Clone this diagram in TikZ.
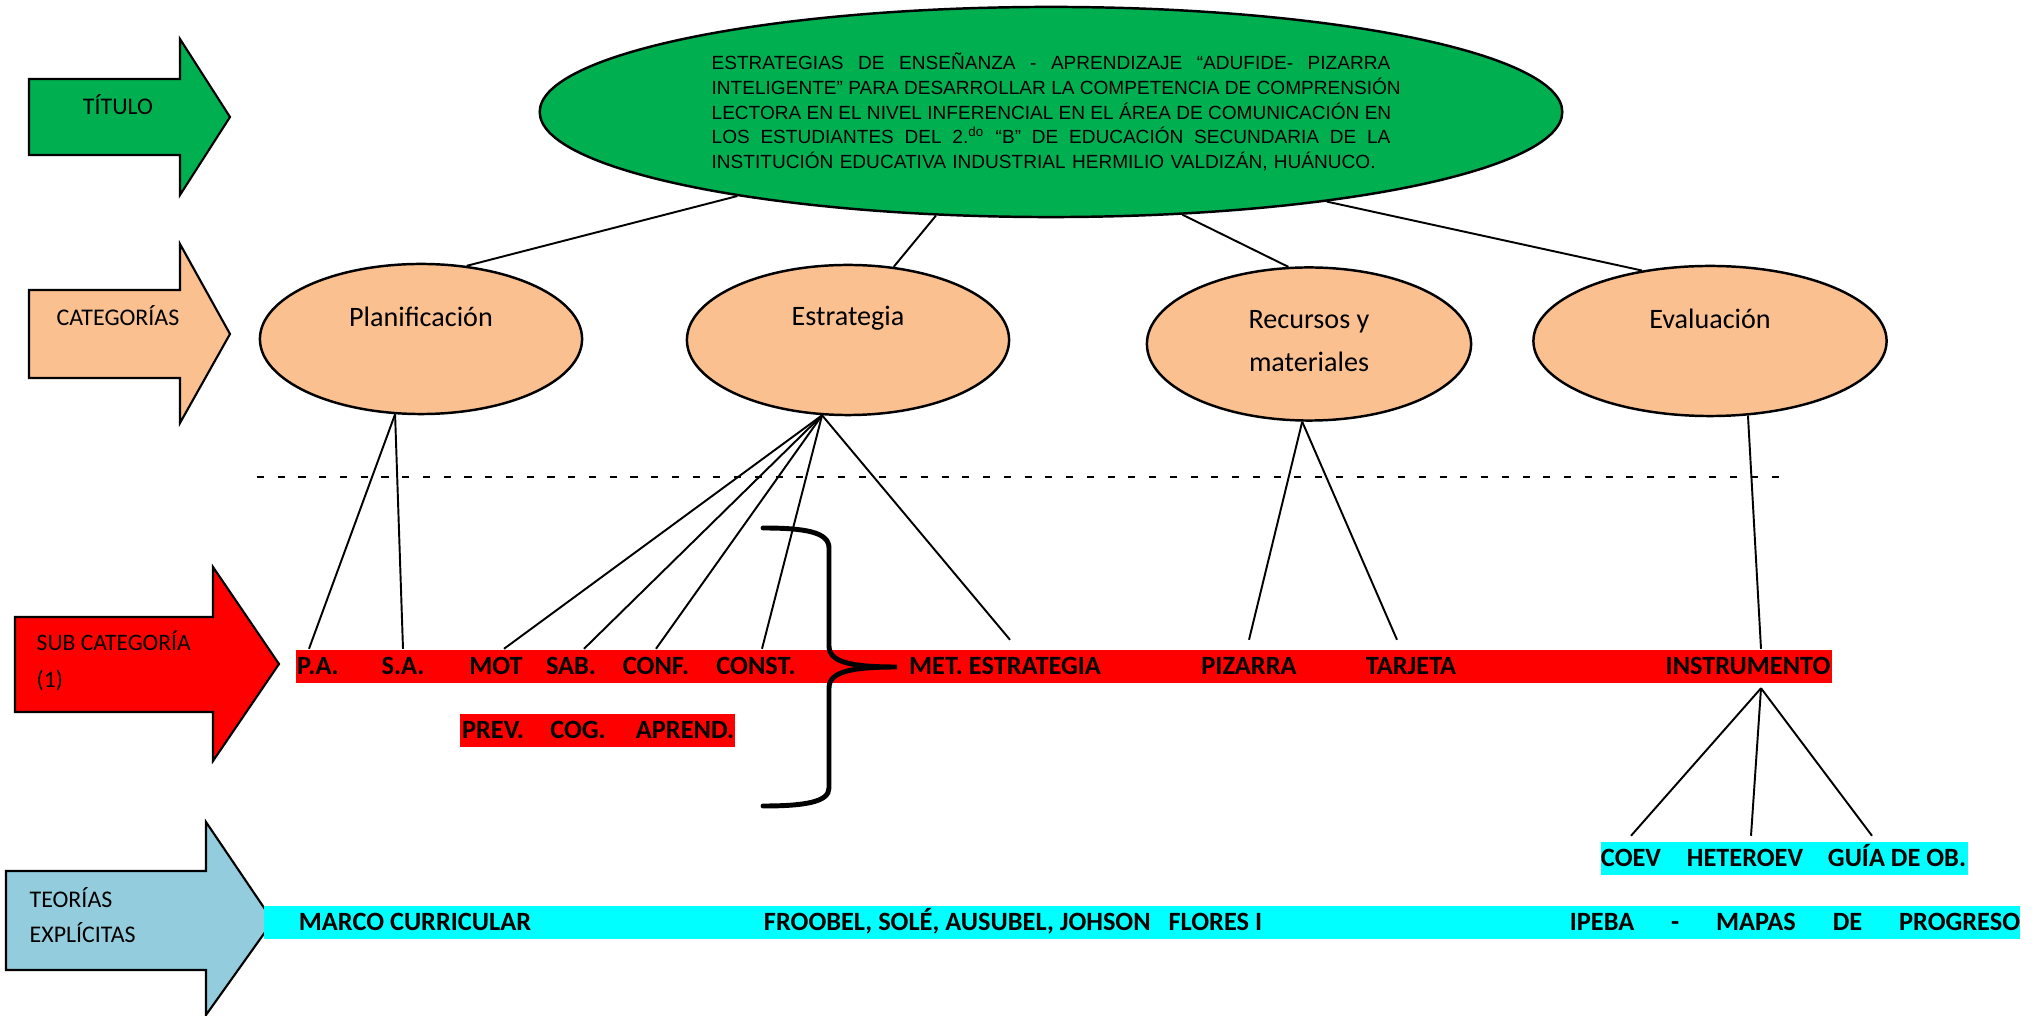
\documentclass[tikz,border=0pt]{standalone}
\usepackage{fontspec}
\setmainfont{Carlito}
\newfontfamily\titlefont{Liberation Sans}
\usetikzlibrary{shapes.geometric}

\definecolor{titlegreen}{HTML}{00B050}
\definecolor{catpeach}{HTML}{FAC090}
\definecolor{teoblue}{HTML}{93CDDD}
\definecolor{barred}{HTML}{FF0000}
\definecolor{barcyan}{HTML}{00FFFF}

\newcommand{\tline}[1]{\leavevmode\hbox to 193pt{\spaceskip=0.278em plus 1fil\relax #1}}

\begin{document}
\begin{tikzpicture}[x=0.01cm, y=-0.01cm,
    cat/.style={ellipse, draw, line width=0.7pt, fill=catpeach, minimum width=3.22cm, minimum height=1.5cm, inner sep=0pt},
    cattxt/.style={font=\fontsize{8}{12}\selectfont, align=center, inner sep=0pt},
    lab/.style={font=\fontsize{7.5}{9}\selectfont\bfseries, inner sep=0pt, minimum height=0.33cm, text height=4.83pt, text depth=0pt},
    side/.style={font=\fontsize{6.8}{10}\selectfont, inner sep=0pt, align=left},
    sidearrow/.style={draw, line width=0.6pt, line join=miter},
    link/.style={line width=0.55pt}]
    \useasboundingbox (0,0) rectangle (2042,1016);

    % Side arrows
    \path[sidearrow, fill=titlegreen] (29,79) -- (180,79) -- (180,39) -- (230,117) -- (180,195) -- (180,155) -- (29,155) -- cycle;
    \path[sidearrow, fill=catpeach] (29,290) -- (180,290) -- (180,244) -- (230,334) -- (180,423) -- (180,378) -- (29,378) -- cycle;
    \path[sidearrow, fill=barred] (15,617) -- (213,617) -- (213,567) -- (279,664) -- (213,761) -- (213,712) -- (15,712) -- cycle;
    \path[sidearrow, fill=teoblue] (6,871) -- (206,871) -- (206,822) -- (273,921) -- (206,1015) -- (206,970) -- (6,970) -- cycle;

    \node[side] (titlelab) at (118,105) {TÍTULO};
    \node[side] (catlab) at (118,316) {CATEGORÍAS};
    \node[side, anchor=west, font=\fontsize{6.7}{10.5}\selectfont] (sublab) at (36,661) {SUB CATEGORÍA\\(1)};
    \node[side, anchor=west] (teolab) at (29,915) {TEORÍAS\\EXPLÍCITAS};

    % Title
    \node[ellipse, draw, line width=0.7pt, fill=titlegreen, minimum width=10.22cm, minimum height=2.1cm, inner sep=0pt,
        font=\titlefont\fontsize{5.42}{7}\selectfont, text width=193pt, align=left] (title) at (1051,112) {
        \tline{ESTRATEGIAS DE ENSEÑANZA - APRENDIZAJE “ADUFIDE- PIZARRA}\\
        \tline{INTELIGENTE” PARA DESARROLLAR LA COMPETENCIA DE COMPRENSIÓN}\\
        \tline{LECTORA EN EL NIVEL INFERENCIAL EN EL ÁREA DE COMUNICACIÓN EN}\\
        \tline{LOS ESTUDIANTES DEL 2.\textsuperscript{do} “B” DE EDUCACIÓN SECUNDARIA DE LA}\\
        INSTITUCIÓN EDUCATIVA INDUSTRIAL HERMILIO VALDIZÁN, HUÁNUCO.};

    % Categories
    \node[cat] (plan) at (421,339) {};
    \node[cat] (estr) at (848,340) {};
    \node[cat, minimum width=3.24cm, minimum height=1.53cm] (recu) at (1309,344) {};
    \node[cat, minimum width=3.53cm] (eval) at (1710,341) {};
    \node[cattxt] (plantxt) at (421,317) {Planificación};
    \node[cattxt] (estrtxt) at (848,318) {Estrategia};
    \node[cattxt] (recutxt) at (1309,341) {Recursos y\\materiales};
    \node[cattxt] (evaltxt) at (1710,319) {Evaluación};

    \draw[link] (title.195) -- (plan.58);
    \draw[link] (title.222) -- (estr.58);
    \draw[link] (title.322) -- (recu.105);
    \draw[link] (title.342) -- (eval.134);

    \draw[line width=0.8pt, dash pattern=on 2pt off 3.9pt] (257,477) -- (1785,477);

    % Bars
    \fill[barred] (296,650) rectangle (1832,683);
    \fill[barred] (460,714) rectangle (735,747);
    \fill[barcyan] (1601,842) rectangle (1968,875);
    \fill[barcyan] (264,906) rectangle (2020,939);

    % Sub categories
    \node[lab] (pa) at (318,666) {P.A.};
    \node[lab] (sa) at (403,666) {S.A.};
    \node[lab] (mot) at (496,666) {MOT};
    \node[lab] (sab) at (571,666) {SAB.};
    \node[lab] (conf) at (656,666) {CONF.};
    \node[lab] (const) at (756,666) {CONST.};
    \node[lab] (met) at (1005,666) {MET. ESTRATEGIA};
    \node[lab] (piz) at (1249,666) {PIZARRA};
    \node[lab] (tarj) at (1411,666) {TARJETA};
    \node[lab] (instr) at (1748,666) {INSTRUMENTO};
    \node[lab] (prev) at (493,730) {PREV.};
    \node[lab] (cog) at (578,730) {COG.};
    \node[lab] (aprend) at (685,730) {APREND.};
    \node[lab] (coev) at (1631,858) {COEV};
    \node[lab] (hetero) at (1745,858) {HETEROEV};
    \node[lab] (guia) at (1897,858) {GUÍA DE OB.};

    % Theories
    \node[lab] (marco) at (415,922) {MARCO CURRICULAR};
    \node[lab] (froobel) at (1013,922) {FROOBEL, SOLÉ, AUSUBEL, JOHSON~~~FLORES I};
    \node[lab] (ipeba) at (1795,922) {\makebox[4.5cm][s]{IPEBA - MAPAS DE PROGRESO}};

    \draw[link] (plan.251) -- ([xshift=-0.09cm]pa.north);
    \draw[link] (plan.251) -- (sa.north);
    \draw[link] (estr.251) -- ([xshift=0.08cm]mot.north);
    \draw[link] (estr.251) -- ([xshift=0.13cm]sab.north);
    \draw[link] (estr.251) -- (conf.north);
    \draw[link] (estr.251) -- ([xshift=0.06cm]const.north);
    \draw[link] (estr.251) -- ([xshift=0.05cm, yshift=0.09cm]met.north);
    \draw[link] (recu.265) -- ([yshift=0.09cm]piz.north);
    \draw[link] (recu.265) -- ([xshift=-0.14cm, yshift=0.09cm]tarj.north);
    \draw[link] (eval.297) -- ([xshift=0.13cm]instr.north);
    \draw[link] ([xshift=0.13cm, yshift=-0.05cm]instr.south) -- ([yshift=0.05cm]coev.north);
    \draw[link] ([xshift=0.13cm, yshift=-0.05cm]instr.south) -- ([xshift=0.06cm, yshift=0.05cm]hetero.north);
    \draw[link] ([xshift=0.13cm, yshift=-0.05cm]instr.south) -- ([xshift=-0.25cm, yshift=0.05cm]guia.north);

    % Brace
    \draw[line width=1.4pt, line cap=round] (763,528) .. controls (805,528) and (829,532) .. (829,548) -- (829,646)
        .. controls (829,662) and (850,667) .. (897,667) .. controls (850,667) and (829,672) .. (829,688) -- (829,788)
        .. controls (829,802) and (805,806) .. (763,806);
\end{tikzpicture}
\end{document}
